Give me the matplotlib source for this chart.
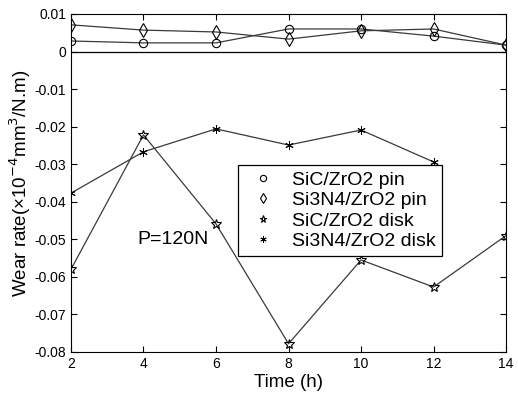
import numpy as np
import matplotlib.pyplot as plt

plt.rcParams['font.family'] = ['Liberation Sans', 'DejaVu Sans']

time = [2, 4, 6, 8, 10, 12, 14]
sic_pin = [0.0028, 0.0023, 0.0023, 0.0060, 0.0060, 0.0041, 0.0017]
si3n4_pin = [0.0071, 0.0057, 0.0052, 0.0033, 0.0055, 0.0060, 0.0017]
sic_disk = [-0.0580, -0.0222, -0.0459, -0.0778, -0.0555, -0.0627, -0.0490]
si3n4_disk = [-0.0377, -0.0267, -0.0206, -0.0249, -0.0209, -0.0294]

fig = plt.figure(figsize=(5.18, 3.94), dpi=100)
ax = fig.add_axes([0.137, 0.1066, 0.840, 0.858])

lc = '#3a3a3a'
ax.plot(time, sic_pin, color=lc, lw=0.9, marker='o', ms=6, mfc='none', mec='black', mew=0.8,
        label='SiC/ZrO2 pin')
ax.plot(time, si3n4_pin, color=lc, lw=0.9, marker='d', ms=7, mfc='none', mec='black', mew=0.8,
        label='Si3N4/ZrO2 pin')
ax.plot(time, sic_disk, color=lc, lw=0.9, marker='*', ms=7, mfc='none', mec='black', mew=0.8,
        label='SiC/ZrO2 disk')
ax.plot(time[:6], si3n4_disk, color=lc, lw=0.9, marker=(6, 2, 0), ms=6, mec='black', mew=0.7,
        label='Si3N4/ZrO2 disk')

ax.axhline(0, color='black', lw=0.9)

ax.set_xlim(2, 14)
ax.set_ylim(-0.08, 0.01)
ax.set_xticks(np.arange(2, 15, 2))
ax.set_yticks(np.arange(-0.08, 0.011, 0.01))
ax.set_yticklabels(['-0.08', '-0.07', '-0.06', '-0.05', '-0.04', '-0.03', '-0.02', '-0.01', '0', '0.01'])
ax.tick_params(direction='in', top=True, right=True, labelsize=10, length=4)

ax.set_xlabel('Time (h)', fontsize=13.5, labelpad=2)
ax.set_ylabel('Wear rate(×10$^{-4}$mm$^3$/N.m)', fontsize=13.5, labelpad=1)

ax.text(3.82, -0.050, 'P=120N', fontsize=14, va='center', ha='left')

leg = ax.legend(loc='upper left', bbox_to_anchor=(0.384, 0.553), fontsize=14, fancybox=False,
                edgecolor='black', framealpha=1, handlelength=2.0, handletextpad=0.5,
                borderpad=0.3, labelspacing=0.15, borderaxespad=0, markerscale=0.75)
for h in leg.legend_handles:
    h.set_linestyle('none')
leg.get_frame().set_linewidth(0.9)

fig.savefig('out.png', dpi=100)
